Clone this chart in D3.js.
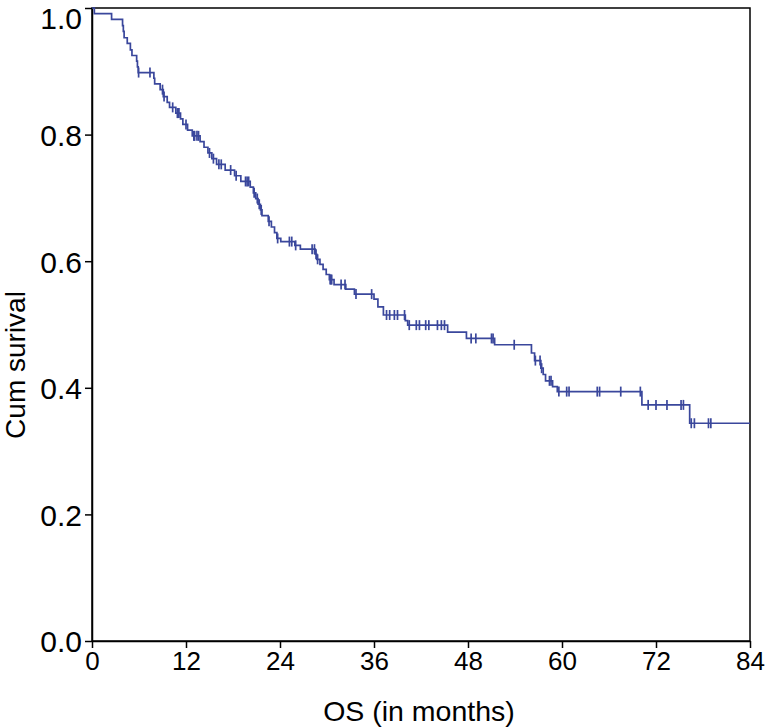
<!DOCTYPE html>
<html>
<head>
<meta charset="utf-8">
<script src="https://cdn.jsdelivr.net/npm/d3@7"></script>
<style>
  body { margin: 0; background: #fff; }
  svg { display: block; }
  text { font-family: "Liberation Sans", Arial, Helvetica, sans-serif; fill: #000; }
</style>
</head>
<body>
<svg id="chart" width="768" height="728"></svg>
<script>
// Event times (months) and survival after each event
const eventTimes = [0.3, 2.5, 3.9, 4.0, 4.1, 4.5, 4.9, 5.1, 5.7, 5.8, 5.9, 7.9, 8.0, 8.7, 9.1, 9.6, 9.9, 10.7, 11.3, 11.6, 12.2, 12.8, 13.8, 14.3, 14.8, 15.3, 15.9, 17.0, 18.2, 19.0, 20.2, 20.6, 20.9, 21.2, 21.5, 21.7, 22.5, 22.9, 23.3, 23.6, 24.1, 25.9, 26.6, 28.5, 28.7, 29.1, 29.5, 29.9, 30.3, 30.9, 32.4, 33.5, 36.0, 36.5, 37.2, 40.0, 40.3, 45.4, 47.8, 51.4, 56.1, 56.5, 57.3, 57.6, 57.9, 58.8, 59.4, 70.2, 76.3];
const eventSurvival = [0.991, 0.982, 0.972, 0.963, 0.953, 0.944, 0.934, 0.925, 0.916, 0.907, 0.898, 0.889, 0.880, 0.871, 0.860, 0.851, 0.843, 0.834, 0.825, 0.816, 0.807, 0.798, 0.789, 0.780, 0.771, 0.762, 0.753, 0.744, 0.735, 0.726, 0.717, 0.708, 0.699, 0.690, 0.681, 0.672, 0.663, 0.654, 0.645, 0.636, 0.631, 0.625, 0.619, 0.611, 0.603, 0.595, 0.587, 0.579, 0.571, 0.563, 0.556, 0.548, 0.540, 0.528, 0.515, 0.506, 0.499, 0.488, 0.478, 0.468, 0.455, 0.443, 0.431, 0.421, 0.411, 0.402, 0.394, 0.373, 0.344];
// Censored observation times (months)
const censorTimes = [5.95, 7.4, 9.0, 9.2, 10.3, 10.9, 11.0, 11.1, 12.0, 13.0, 13.1, 13.4, 13.6, 15.0, 15.5, 16.2, 16.5, 17.7, 18.4, 19.6, 19.8, 20.0, 20.7, 21.1, 21.35, 21.6, 22.6, 23.7, 25.2, 25.5, 26.0, 28.1, 28.4, 28.6, 28.8, 30.4, 30.5, 30.6, 31.8, 32.3, 33.7, 35.7, 37.6, 38.0, 38.6, 39.0, 39.9, 40.5, 41.4, 41.8, 42.6, 43.0, 44.1, 44.6, 45.0, 48.4, 49.0, 51.0, 51.2, 53.9, 56.6, 57.2, 57.4, 58.4, 58.6, 59.6, 60.6, 60.9, 64.5, 64.8, 67.5, 70.0, 71.0, 72.0, 73.4, 75.2, 75.5, 76.5, 76.9, 78.7, 79.0];
const xTicks = [0, 12, 24, 36, 48, 60, 72, 84];
const yTicks = [0.0, 0.2, 0.4, 0.6, 0.8, 1.0];
const xMax = 84;
const xTitle = "OS (in months)";
const yTitle = "Cum surival";

const svg = d3.select("#chart");
const L = 92, R = 750, T = 8, B = 641;
const x = d3.scaleLinear().domain([0, xMax]).range([L, R]);
const y = d3.scaleLinear().domain([0, 1]).range([B, T]);
const lineColor = "#3a479c";

// frame (top and right)
svg.append("rect").attr("x", L).attr("y", T).attr("width", R - L).attr("height", B - T)
  .attr("fill", "none").attr("stroke", "#000").attr("stroke-width", 1.5);

// axes
const xAxis = svg.append("g").attr("transform", `translate(0,${B})`)
  .call(d3.axisBottom(x).tickValues(xTicks).tickSize(7).tickSizeOuter(0).tickFormat(d3.format("d")));
const yAxis = svg.append("g").attr("transform", `translate(${L},0)`)
  .call(d3.axisLeft(y).tickValues(yTicks).tickSize(7).tickSizeOuter(0).tickFormat(d3.format(".1f")));
[xAxis, yAxis].forEach(g => {
  g.select(".domain").attr("stroke", "#000").attr("stroke-width", 1.5);
  g.selectAll(".tick line").attr("stroke", "#000").attr("stroke-width", 1.5);
  g.selectAll("text").style("font-family", '"Liberation Sans", Arial, sans-serif');
});
xAxis.selectAll("text").style("font-size", "26px").attr("dy", "0.88em").attr("y", 6);
yAxis.selectAll("text").style("font-size", "30px").attr("x", -10).attr("dy", "0.36em");
yAxis.selectAll(".tick").filter(d => d === 1).select("text").attr("dy", "0.68em");

// survival step line
const pts = [{t: 0, s: 1}];
eventTimes.forEach((t, i) => pts.push({t, s: eventSurvival[i]}));
pts.push({t: xMax, s: eventSurvival[eventSurvival.length - 1]});
const line = d3.line().x(d => x(d.t)).y(d => y(d.s)).curve(d3.curveStepAfter);
svg.append("path").datum(pts).attr("d", line).attr("fill", "none")
  .attr("stroke", lineColor).attr("stroke-width", 1.7);

// censor marks
function survAt(t) {
  let s = 1;
  for (let i = 0; i < eventTimes.length; i++) { if (eventTimes[i] <= t) s = eventSurvival[i]; else break; }
  return s;
}
svg.append("g").selectAll("line").data(censorTimes).join("line")
  .attr("x1", d => x(d)).attr("x2", d => x(d))
  .attr("y1", d => y(survAt(d)) - 5).attr("y2", d => y(survAt(d)) + 5)
  .attr("stroke", lineColor).attr("stroke-width", 1.7);

// titles
svg.append("text").attr("x", 419).attr("y", 721).attr("text-anchor", "middle")
  .style("font-size", "28.5px").text(xTitle);
svg.append("text").attr("transform", `translate(25,365) rotate(-90)`)
  .attr("text-anchor", "middle").style("font-size", "28px").text(yTitle);
</script>
</body>
</html>
